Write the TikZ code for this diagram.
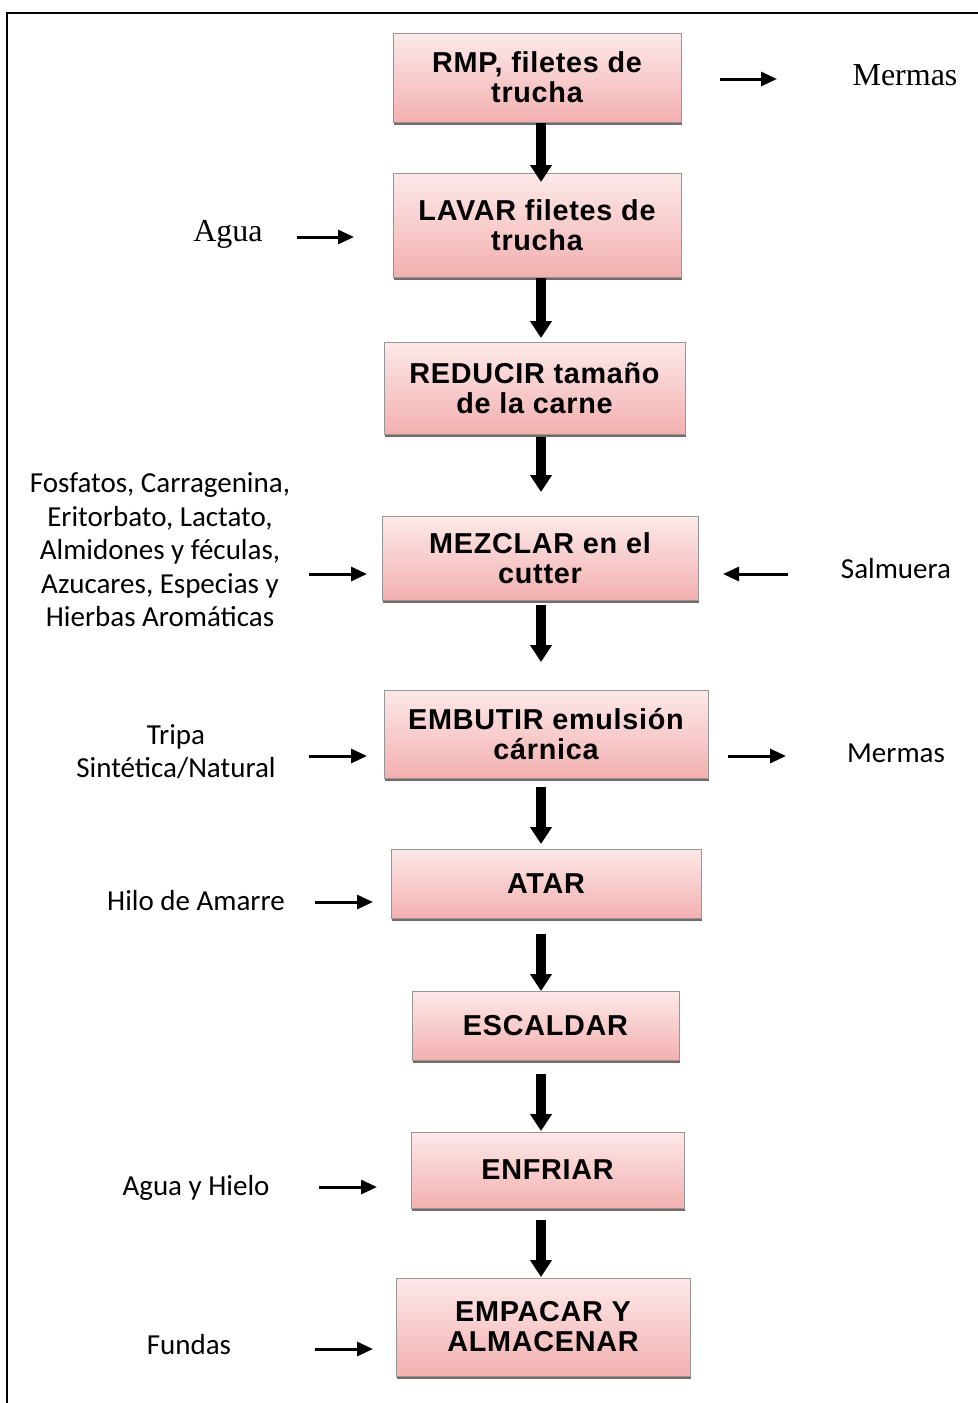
\documentclass[tikz,border=0pt]{standalone}
\usepackage{fontspec}
\setmainfont{Liberation Serif}
\newfontfamily\boxfont[LetterSpace=2.5]{Liberation Sans}
\newfontfamily\lblfont{Carlito}
\usetikzlibrary{arrows.meta,shadows}
\definecolor{boxtop}{RGB}{253,233,233}
\definecolor{boxbot}{RGB}{243,176,176}
\definecolor{boxline}{RGB}{150,150,150}
\definecolor{shadowc}{RGB}{120,105,105}
\tikzset{
  procbox/.style={rectangle, draw=boxline, line width=0.5pt,
    top color=boxtop, bottom color=boxbot, inner sep=0pt,
    general shadow={fill=shadowc, shadow xshift=0.6pt, shadow yshift=-1.3pt},
    font=\boxfont\bfseries\fontsize{14.4}{15}\selectfont, align=center},
  lbl/.style={font=\lblfont\fontsize{14.5}{16.75}\selectfont, align=center, inner sep=0pt},
  serlbl/.style={font=\rmfamily\fontsize{16}{18}\selectfont, inner sep=0pt},
  bigarr/.style={line width=5pt, -{Triangle[width=10.5pt,length=8.5pt]}},
  smallarr/.style={line width=1.5pt, -{Triangle[width=7pt,length=8pt]}}
}
\begin{document}
\begin{tikzpicture}[x=0.5pt, y={(0pt,-0.5pt)}]
\useasboundingbox (0,0) rectangle (978,1403);

% page frame (top and left edges)
\draw[line width=1pt] (7,1403) -- (7,13) -- (978,13);

% process steps
\node[procbox, minimum width=144pt, minimum height=44.5pt] (b1) at (537,77.5) {RMP, filetes de\\trucha};
\node[procbox, minimum width=144pt, minimum height=52pt] (b2) at (537,225) {LAVAR filetes de\\trucha};
\node[procbox, minimum width=150.5pt, minimum height=46pt] (b3) at (534.5,388) {REDUCIR tamaño\\de la carne};
\node[procbox, minimum width=158pt, minimum height=42pt] (b4) at (540,558) {MEZCLAR en el\\cutter};
\node[procbox, minimum width=162pt, minimum height=44pt] (b5) at (546,734) {EMBUTIR emulsión\\cárnica};
\node[procbox, minimum width=155pt, minimum height=34.5pt] (b6) at (546,883.5) {ATAR};
\node[procbox, minimum width=133.5pt, minimum height=34.5pt] (b7) at (545.5,1025.5) {ESCALDAR};
\node[procbox, minimum width=136.5pt, minimum height=38pt] (b8) at (547.5,1170) {ENFRIAR};
\node[procbox, minimum width=147pt, minimum height=49pt] (b9) at (543,1327) {EMPACAR Y\\ALMACENAR};

% main flow
\coordinate (ax) at (541,0);
\coordinate (t1) at (541,182);
\coordinate (t2) at (541,338);
\coordinate (t3) at (541,492);
\coordinate (t4) at (541,662);
\coordinate (t5) at (541,844);
\coordinate (t6) at (541,991);
\coordinate (t7) at (541,1131);
\coordinate (t8) at (541,1277);
\draw[bigarr] (b1.south -| ax) -- (t1);
\draw[bigarr] (b2.south -| ax) -- (t2);
\draw[bigarr] (b3.south -| ax) ++(0,2) -- (t3);
\draw[bigarr] (b4.south -| ax) ++(0,4) -- (t4);
\draw[bigarr] (b5.south -| ax) ++(0,8) -- (t5);
\draw[bigarr] (b6.south -| ax) ++(0,15) -- (t6);
\draw[bigarr] (b7.south -| ax) ++(0,13) -- (t7);
\draw[bigarr] (b8.south -| ax) ++(0,11) -- (t8);

% inputs and outputs
\node[serlbl] (o1) at (905,75) {Mermas};
\node[serlbl] (i2) at (228,234) {Agua};
\node[lbl] (i4) at (160,550) {Fosfatos, Carragenina,\\Eritorbato, Lactato,\\Almidones y féculas,\\Azucares, Especias y\\Hierbas Aromáticas};
\node[lbl] (s4) at (896,569) {Salmuera};
\node[lbl] (i5) at (176,751.5) {Tripa\\Sintética/Natural};
\node[lbl] (o5) at (896,753) {Mermas};
\node[lbl] (i6) at (196,901) {Hilo de Amarre};
\node[lbl] (i8) at (196,1188) {Agua y Hielo};
\node[lbl] (i9) at (189,1345) {Fundas};

\coordinate (o1a) at (720,79);   \coordinate (o1b) at (777,79);
\coordinate (i2a) at (297,237);  \coordinate (i2b) at (354,237);
\coordinate (i4a) at (309,574);  \coordinate (i4b) at (367,574);
\coordinate (s4a) at (788,574);  \coordinate (s4b) at (723,574);
\coordinate (i5a) at (309,756);  \coordinate (i5b) at (367,756);
\coordinate (o5a) at (728,756);  \coordinate (o5b) at (786,756);
\coordinate (i6a) at (315,902);  \coordinate (i6b) at (373,902);
\coordinate (i8a) at (319,1187); \coordinate (i8b) at (377,1187);
\coordinate (i9a) at (315,1349); \coordinate (i9b) at (373,1349);
\draw[smallarr] (o1a) -- (o1b);
\draw[smallarr] (i2a) -- (i2b);
\draw[smallarr] (i4a) -- (i4b);
\draw[smallarr] (s4a) -- (s4b);
\draw[smallarr] (i5a) -- (i5b);
\draw[smallarr] (o5a) -- (o5b);
\draw[smallarr] (i6a) -- (i6b);
\draw[smallarr] (i8a) -- (i8b);
\draw[smallarr] (i9a) -- (i9b);
\end{tikzpicture}
\end{document}
